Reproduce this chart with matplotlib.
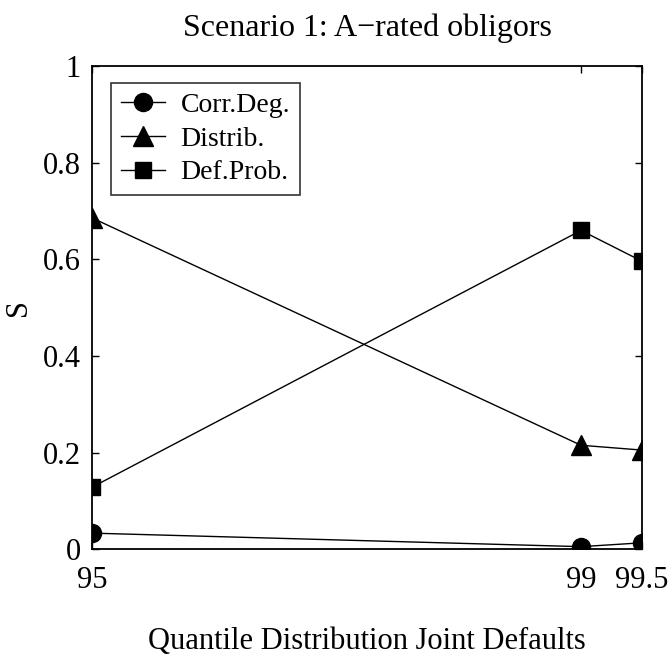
import matplotlib.pyplot as plt

quantiles = [95, 99, 99.5]
corr_deg = [0.033, 0.005, 0.013]
distrib = [0.686, 0.215, 0.205]
def_prob = [0.128, 0.66, 0.596]

plt.rcParams["font.family"] = ["Liberation Serif", "DejaVu Serif"]

fig = plt.figure(figsize=(6.71, 6.56), dpi=100)
ax = fig.add_axes([0.137, 0.163, 0.82, 0.736])

ax.plot(quantiles, corr_deg, color="black", lw=1, marker="o", ms=13, label="Corr.Deg.")
ax.plot(quantiles, distrib, color="black", lw=1, marker="^", ms=14, label="Distrib.")
ax.plot(quantiles, def_prob, color="black", lw=1, marker="s", ms=11, label="Def.Prob.")

ax.set_xlim(95, 99.5)
ax.set_ylim(0, 1)
ax.set_xticks(quantiles)
ax.set_xticklabels(["95", "99", "99.5"])
ax.set_yticks([0, 0.2, 0.4, 0.6, 0.8, 1])
ax.set_yticklabels(["0", "0.2", "0.4", "0.6", "0.8", "1"])
ax.tick_params(direction="in", labelsize=22, length=5, width=1, right=True, top=True)
ax.tick_params(axis="x", pad=12)
ax.tick_params(axis="y", pad=8)
for s in ax.spines.values():
    s.set_linewidth(1.3)

ax.set_title("Scenario 1: A\u2212rated obligors", fontsize=23, pad=22)
ax.set_xlabel("Quantile Distribution Joint Defaults", fontsize=22, labelpad=23)
ax.set_ylabel("S", fontsize=22)
ax.yaxis.set_label_coords(-0.107, 0.5)

leg = ax.legend(loc="upper left", fontsize=20, frameon=True, fancybox=False,
                edgecolor="black", borderpad=0.35, handlelength=1.6, labelspacing=0.3,
                handletextpad=0.55, borderaxespad=0, bbox_to_anchor=(0.035, 0.966))
leg.get_frame().set_linewidth(1.2)

fig.savefig("out.png", dpi=100)
